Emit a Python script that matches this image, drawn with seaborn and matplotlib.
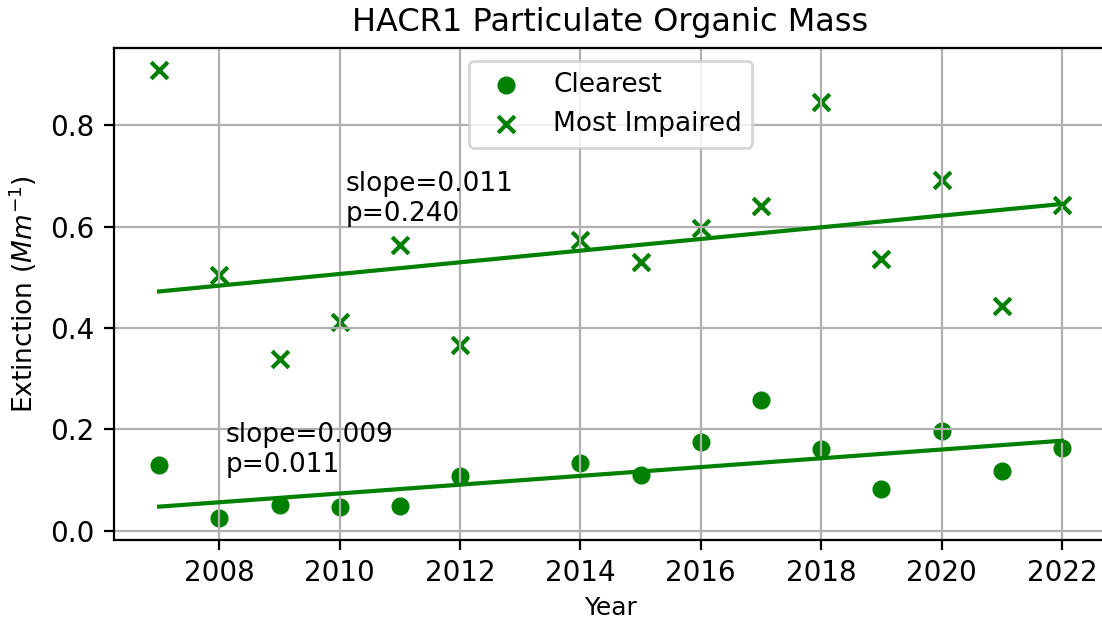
import numpy as np
import pandas as pd
import seaborn as sns
from matplotlib import pyplot as plt

# annual values (no data for 2013)
years = [2007, 2008, 2009, 2010, 2011, 2012, 2014, 2015, 2016, 2017, 2018, 2019, 2020, 2021, 2022]
clearest = [0.130, 0.026, 0.050, 0.047, 0.048, 0.109, 0.134, 0.110, 0.175, 0.258, 0.161, 0.083, 0.197, 0.117, 0.164]
most_impaired = [0.908, 0.505, 0.338, 0.411, 0.564, 0.366, 0.574, 0.531, 0.597, 0.640, 0.846, 0.537, 0.692, 0.443, 0.643]

clear_stats = 'slope=0.009\np=0.011'
impaired_stats = 'slope=0.011\np=0.240'


def theil_sen(x, y):
    '''
    Median of pairwise slopes, intercept from the medians (same as scipy.stats.theilslopes).
    Returns the fitted values at x.
    '''
    x = np.asarray(x, dtype=float)
    y = np.asarray(y, dtype=float)
    i, j = np.triu_indices(len(x), k=1)
    slope = np.median((y[j] - y[i]) / (x[j] - x[i]))
    intercept = np.median(y) - slope * np.median(x)
    return intercept + slope * x


df = pd.DataFrame({'year': years, 'clearest': clearest, 'most_impaired': most_impaired})
df['clearest_fit'] = theil_sen(df['year'], df['clearest'])
df['most_impaired_fit'] = theil_sen(df['year'], df['most_impaired'])

fig = plt.figure(figsize=(5.51, 3.115), dpi=200)
ax = fig.add_axes([114 / 1102, 83 / 623, 993 / 1102, 492 / 623])

sns.regplot(data=df, x='year', y='clearest', ax=ax, fit_reg=False, color='green', marker='o',
            label='Clearest', scatter_kws={'s': 36, 'linewidths': 0.5, 'edgecolor': 'face', 'alpha': 1})
sns.regplot(data=df, x='year', y='most_impaired', ax=ax, fit_reg=False, color='green', marker='x',
            label='Most Impaired', scatter_kws={'s': 36, 'linewidths': 1.5, 'alpha': 1})
sns.lineplot(data=df, x='year', y='clearest_fit', ax=ax, color='green', linewidth=1.5)
sns.lineplot(data=df, x='year', y='most_impaired_fit', ax=ax, color='green', linewidth=1.5)

ax.text(2008.1, 0.215, clear_stats, va='top', ha='left', fontsize=9.5)
ax.text(2010.1, 0.71, impaired_stats, va='top', ha='left', fontsize=9.5)

ax.grid(True)
ax.set_xticks(range(2008, 2023, 2))
ax.set_xlabel('Year', fontsize=9, labelpad=3)
ax.set_ylabel('Extinction ($Mm^{-1}$)', fontsize=9.5)
ax.set_title('HACR1 Particulate Organic Mass', fontsize=11.5)
ax.legend(loc='upper center', fontsize=9.5)

fig.savefig('out.png', dpi=200)
